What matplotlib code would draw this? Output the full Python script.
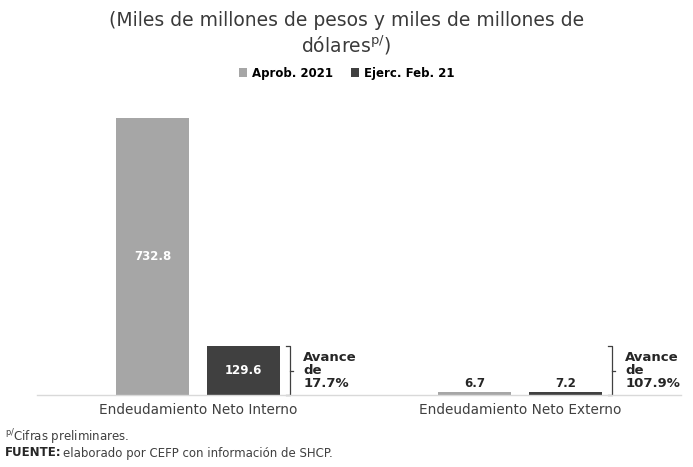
import matplotlib
matplotlib.use("Agg")
import matplotlib.pyplot as plt
import numpy as np

categories = ["Endeudamiento Neto Interno", "Endeudamiento Neto Externo"]
series_names = ["Aprob. 2021", "Ejerc. Feb. 21"]
aprob = [732.8, 6.7]
ejerc = [129.6, 7.2]
avance = ["17.7%", "107.9%"]

plt.rcParams['font.family'] = ['DejaVu Sans']
c1, c2 = "#A6A6A6", "#404040"

fig = plt.figure(figsize=(6.93, 4.67), dpi=100)
ax = fig.add_axes([37/693, 1 - 395/467, (681 - 37)/693, (395 - 100)/467])

x = np.arange(len(categories))
w = 0.227
off = 0.141
b1 = ax.bar(x - off, aprob, w, color=c1, label=series_names[0])
b2 = ax.bar(x + off, ejerc, w, color=c2, label=series_names[1])
ax.set_xlim(-0.5, 1.5)
ax.set_ylim(0, 732.8 * 295 / 277)

for spine in ["top", "right", "left"]:
    ax.spines[spine].set_visible(False)
ax.spines["bottom"].set_color("#D9D9D9")
ax.spines["bottom"].set_linewidth(1)
ax.set_yticks([])
ax.set_xticks(x)
ax.set_xticklabels(categories, fontsize=9.8, color="#404040")
ax.tick_params(axis="x", length=0, pad=6)

for bars, vals in [(b1, aprob), (b2, ejerc)]:
    for r, v in zip(bars, vals):
        if v > 50:
            ax.text(r.get_x() + r.get_width()/2, v/2, f"{v:.1f}", ha="center", va="center",
                    color="white", fontsize=8.5, fontweight="bold")
        else:
            ax.text(r.get_x() + r.get_width()/2, v + 6, f"{v:.1f}", ha="center", va="bottom",
                    color="#262626", fontsize=8.5, fontweight="bold")

# brackets
top = ejerc[0]
for i in range(len(categories)):
    xb = x[i] + off + w/2 + 0.03
    tick = 0.012
    ax.plot([xb - tick, xb, xb, xb - tick], [top, top, 0, 0], color="#404040", lw=0.9, clip_on=False)
    ax.plot([xb, xb + tick], [top/2, top/2], color="#404040", lw=0.9, clip_on=False)
    ax.text(xb + 0.042, top/2, f"Avance\nde\n{avance[i]}", ha="left", va="center",
            fontsize=9.5, fontweight="bold", color="#262626", linespacing=1.0)

fig.text(0.5, 1 - 20/467, "(Miles de millones de pesos y miles de millones de", ha="center",
         va="center", fontsize=13.5, color="#3A3A3A")
fig.text(0.5, 1 - 45/467, r"dólares$^{\mathrm{p/}}$)", ha="center", va="center",
         fontsize=13.5, color="#3A3A3A")

leg = fig.legend(handles=[b1, b2], labels=series_names, loc="center", bbox_to_anchor=(0.5, 1 - 73/467),
                 ncol=2, frameon=False, prop={"weight": "bold", "size": 8.5},
                 handlelength=0.7, handleheight=0.7, columnspacing=1.5, handletextpad=0.4)

fig.text(5/693, 1 - 437/467, r"$^{\mathrm{p/}}$Cifras preliminares.", ha="left", va="center",
         fontsize=8.5, color="#404040")
fig.text(5/693, 1 - 453/467, "FUENTE:", ha="left", va="center", fontsize=8.5,
         fontweight="bold", color="#262626")
fig.text(63/693, 1 - 453/467, "elaborado por CEFP con información de SHCP.", ha="left",
         va="center", fontsize=8.5, color="#404040")

fig.savefig("out.png", dpi=100)
